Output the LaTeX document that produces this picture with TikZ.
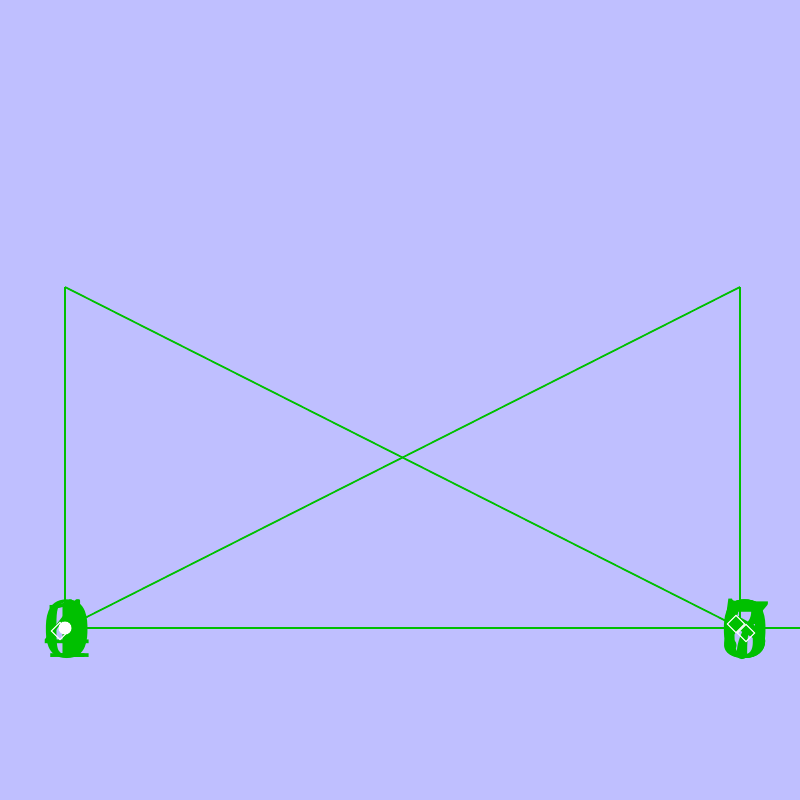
\documentclass[tikz,border=0pt]{standalone}
\usetikzlibrary{shapes.geometric}
\definecolor{bg}{HTML}{BFBFFF}
\definecolor{gr}{HTML}{00C000}
\begin{document}
\begin{tikzpicture}[x=0.01cm,y=-0.01cm,
  edge/.style={draw=gr,line width=0.5pt},
  digit/.style={text=gr,font=\fontsize{25}{25}\selectfont\bfseries,inner sep=0pt},
  markbox/.style={draw=white,diamond,minimum size=5pt,inner sep=0pt,line width=0.3pt}]
\fill[bg] (0,0) rectangle (800,800);
\useasboundingbox (0,0) rectangle (800,800);
\coordinate (A) at (65,287);
\coordinate (B) at (740,287);
\coordinate (C) at (65,628);
\coordinate (D) at (740,628);
\coordinate (E) at (800,628);
\draw[edge] (A) -- (C);
\draw[edge] (A) -- (D);
\draw[edge] (B) -- (C);
\draw[edge] (B) -- (D);
\draw[edge] (C) -- (E);
\node[digit] (l0) at (67,629) {0};
\node[digit] (l1) at (67,629) {1};
\node[digit] (l4) at (67,629) {4};
\node[digit] (r3) at (745,629) {3};
\node[digit] (r7) at (745,629) {7};
\node[digit] (r8) at (745,629) {8};
\node[digit] (r0) at (745,629) {0};
\node[markbox] (m1) at (60,631) {};
\fill[white] (C) circle (6.5);
\node[markbox] (m2) at (736,624) {};
\node[markbox] (m3) at (746,633) {};
\end{tikzpicture}
\end{document}
